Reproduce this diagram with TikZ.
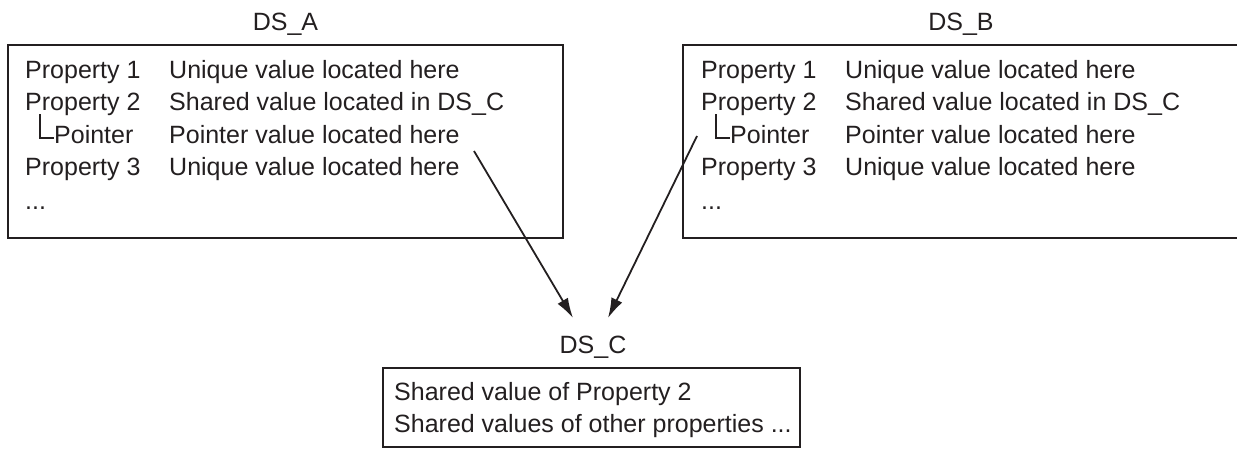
\documentclass[tikz,border=0pt]{standalone}
\usepackage{fontspec}
\setmainfont{Liberation Sans}
\usetikzlibrary{arrows.meta}
\definecolor{ink}{HTML}{231F20}
\begin{document}
\begin{tikzpicture}[x=1pt,y=-1pt,
  txt/.style={anchor=base west, inner sep=0pt, text=ink, font=\fontsize{25}{30}\selectfont},
  lbl/.style={anchor=base, inner sep=0pt, text=ink, font=\fontsize{25}{30}\selectfont},
  frame/.style={draw=ink, line width=2pt, inner sep=0pt},
  tree/.style={draw=ink, line width=1.5pt},
  link/.style={draw=ink, line width=1.8pt, -{Latex[length=20pt,width=12pt]}}]
\useasboundingbox (0,0) rectangle (1237,450);
\clip (0,0) rectangle (1237,450);

% ---------- DS_A ----------
\node[lbl] (labA) at (285.5,30) {DS\_A};
\node[frame, minimum width=555pt, minimum height=193pt] (boxA) at (285.5,141.5) {};
\node[txt] (a1k) at (25,78)  {Property 1};
\node[txt] (a1v) at (169,78) {Unique value located here};
\node[txt] (a2k) at (25,110.5) {Property 2};
\node[txt] (a2v) at (169,110.5) {Shared value located in DS\_C};
\node[txt] (a3k) at (54,143) {Pointer};
\node[txt] (a3v) at (169,143) {Pointer value located here};
\node[txt] (a4k) at (25,175.5) {Property 3};
\node[txt] (a4v) at (169,175.5) {Unique value located here};
\node[txt] (a5k) at (25,209) {...};
\draw[tree] (40,114) -- (40,138) -- (54,138);

% ---------- DS_B ----------
\node[lbl] (labB) at (961,30) {DS\_B};
\node[frame, minimum width=556pt, minimum height=193pt] (boxB) at (961,141.5) {};
\node[txt] (b1k) at (701,78)  {Property 1};
\node[txt] (b1v) at (845,78) {Unique value located here};
\node[txt] (b2k) at (701,110.5) {Property 2};
\node[txt] (b2v) at (845,110.5) {Shared value located in DS\_C};
\node[txt] (b3k) at (730,143) {Pointer};
\node[txt] (b3v) at (845,143) {Pointer value located here};
\node[txt] (b4k) at (701,175.5) {Property 3};
\node[txt] (b4v) at (845,175.5) {Unique value located here};
\node[txt] (b5k) at (701,209) {...};
\draw[tree] (716,114) -- (716,138) -- (730,138);

% ---------- DS_C ----------
\node[lbl] (labC) at (593,353) {DS\_C};
\node[frame, minimum width=417pt, minimum height=79pt] (boxC) at (591.5,407.5) {};
\node[txt] (c1) at (394,400) {Shared value of Property 2};
\node[txt] (c2) at (394,432) {Shared values of other properties ...};

% ---------- pointers ----------
\coordinate (pA) at (474,151);
\coordinate (tA) at (573,318);
\coordinate (pB) at (697,136);
\coordinate (tB) at (608,318);
\draw[link] (pA) -- (tA);
\draw[link] (pB) -- (tB);
\end{tikzpicture}
\end{document}
